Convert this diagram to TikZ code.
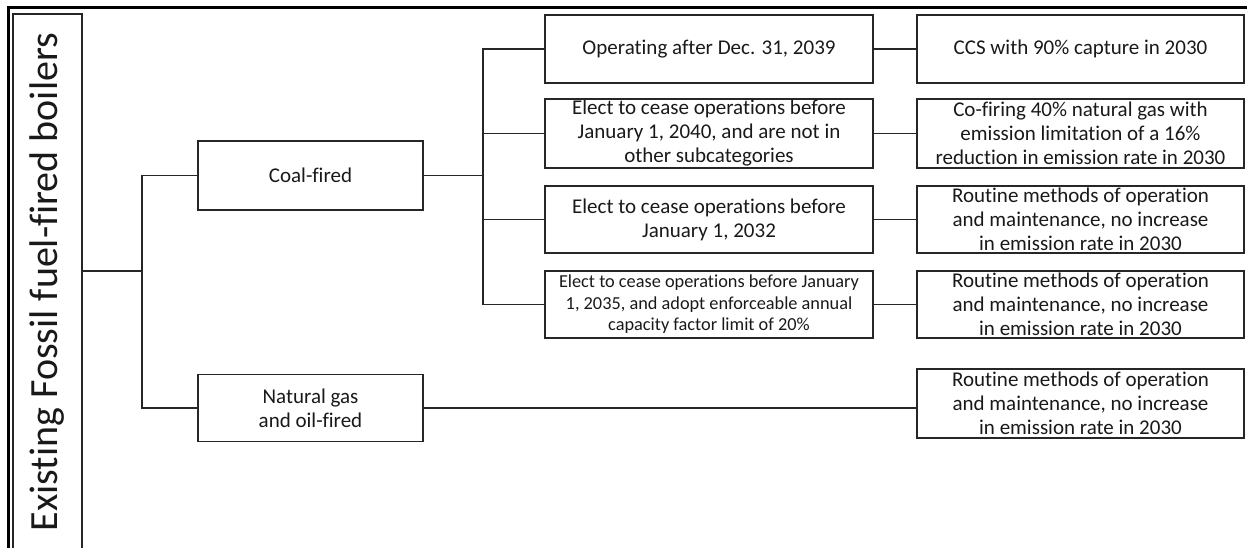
\documentclass[tikz,border=0pt]{standalone}
\usepackage{fontspec}
\setmainfont{Carlito}[Ligatures=NoCommon]

\begin{document}
\begin{tikzpicture}[x=1pt,y=1pt,yscale=-1,xscale=1,
    box/.style={draw=black!85,line width=1.1pt,rectangle,align=center,inner sep=0pt,
        text=black!90,font=\fontsize{21}{24}\selectfont},
    link/.style={draw=black!85,line width=1.1pt}]
    \useasboundingbox (0,0) rectangle (1247,548);

    %Frame
    \draw [line width=3pt] (8,548) -- (8,8) -- (1247,8);

    % Text Node
    \node (root) at (47.5,282) [box,rotate=90,minimum width=536,minimum height=69,
        font=\fontsize{40}{45}\selectfont] {Existing Fossil fuel-fired boilers};
    % Text Node
    \node (coal) at (310.5,175.5) [box,minimum width=225,minimum height=69] {Coal-fired};
    % Text Node
    \node (gas) at (310.5,408) [box,minimum width=225,minimum height=67] {Natural gas\\and oil-fired};

    % Text Node
    \node (m1) at (709,49) [box,minimum width=328,minimum height=68] {Operating after Dec. 31, 2039};
    % Text Node
    \node (m2) at (709,133.5) [box,minimum width=328,minimum height=69]
        {Elect to cease operations before\\January 1, 2040, and are not in\\other subcategories};
    % Text Node
    \node (m3) at (709,219.5) [box,minimum width=328,minimum height=67]
        {Elect to cease operations before\\January 1, 2032};
    % Text Node
    \node (m4) at (709,304.5) [box,minimum width=328,minimum height=67,
        font=\fontsize{18.3}{21.5}\selectfont]
        {Elect to cease operations before January\\1, 2035, and adopt enforceable annual\\capacity factor limit of 20\%};

    % Text Node
    \node (r1) at (1080.5,49) [box,minimum width=327,minimum height=68] {CCS with 90\% capture in 2030};
    % Text Node
    \node (r2) at (1080.5,133.5) [box,minimum width=327,minimum height=69]
        {Co-firing 40\% natural gas with\\emission limitation of a 16\%\\reduction in emission rate in 2030};
    % Text Node
    \node (r3) at (1080.5,219.5) [box,minimum width=327,minimum height=67]
        {Routine methods of operation\\and maintenance, no increase\\in emission rate in 2030};
    % Text Node
    \node (r4) at (1080.5,304.5) [box,minimum width=327,minimum height=67]
        {Routine methods of operation\\and maintenance, no increase\\in emission rate in 2030};
    % Text Node
    \node (r5) at (1080.5,403.5) [box,minimum width=327,minimum height=69]
        {Routine methods of operation\\and maintenance, no increase\\in emission rate in 2030};

    \coordinate (j1) at (142,271);
    \coordinate (j2) at (483,175.5);

    %Straight Lines
    \draw [link] (root.south |- j1) -- (j1);
    \draw [link] (coal.west) -| (j1) |- (gas.west);
    \draw [link] (coal.east) -- (j2);
    \draw [link] (m1.west) -| (j2) |- (m4.west);
    \draw [link] (j2) |- (m2.west);
    \draw [link] (j2) |- (m3.west);
    \draw [link] (m1) -- (r1);
    \draw [link] (m2) -- (r2);
    \draw [link] (m3) -- (r3);
    \draw [link] (m4) -- (r4);
    \draw [link] (gas.east) -- (gas.east -| r5.west);

\end{tikzpicture}
\end{document}
